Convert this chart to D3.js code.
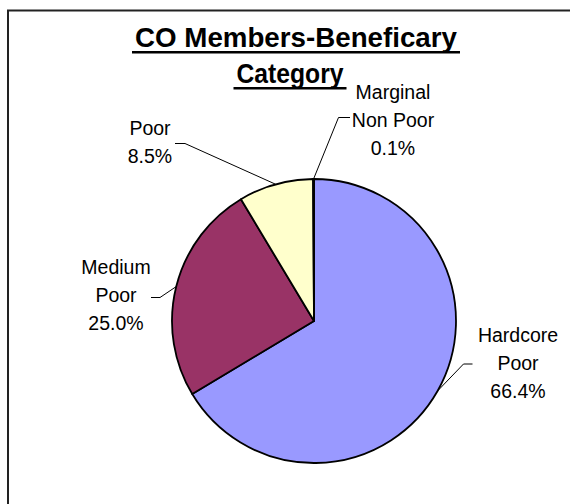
<!DOCTYPE html>
<html>
<head>
<meta charset="utf-8">
<script src="https://cdn.jsdelivr.net/npm/d3@7"></script>
<style>
  html, body { margin: 0; padding: 0; background: #fff; }
  svg { display: block; }
  text { font-family: "Liberation Sans", Arial, sans-serif; fill: #000; }
</style>
</head>
<body>
<svg id="chart" width="570" height="504"></svg>
<script>
// ---- data ----
const categories = ["Hardcore Poor", "Medium Poor", "Poor", "Marginal Non Poor"];
const values = [66.4, 25.0, 8.5, 0.1];
const labelLines = [["Hardcore", "Poor"], ["Medium", "Poor"], ["Poor"], ["Marginal", "Non Poor"]];
const titleLines = ["CO Members-Beneficary", "Category"];
const colors = ["#9999FF", "#993366", "#FFFFCC", "#CCFFFF"];

// ---- layout (label placement, not data) ----
const labelLayout = [
  { cx: 518, y0: 342, elbow: [[472.5, 364], [463.5, 364]] },
  { cx: 116, y0: 274, elbow: [[151, 297.5], [160, 297.5]] },
  { cx: 150, y0: 135, elbow: [[175, 143.5], [185, 143.5]] },
  { cx: 393, y0: 99,  elbow: [[350, 117.5], [338.5, 117.5]] }
];
const titleLayout = [
  { x: 296, y: 47, w: 322 },
  { x: 290, y: 83, w: 107 }
];

const svg = d3.select("#chart");
const cx = 314, cy = 321, R = 142;

// frame (only top and left edges visible)
svg.append("rect")
  .attr("x", 8).attr("y", 10.5)
  .attr("width", 700).attr("height", 700)
  .attr("fill", "none").attr("stroke", "#222").attr("stroke-width", 2);

// title
const titleG = svg.append("g");
titleLines.forEach((t, i) => {
  const T = titleLayout[i];
  titleG.append("text")
    .attr("x", T.x).attr("y", T.y)
    .attr("text-anchor", "middle")
    .attr("font-size", 27).attr("font-weight", "bold")
    .attr("textLength", T.w).attr("lengthAdjust", "spacingAndGlyphs")
    .text(t);
  titleG.append("rect")
    .attr("x", T.x - T.w / 2 - 3).attr("y", T.y + 4)
    .attr("width", T.w + 6).attr("height", 2.5)
    .attr("fill", "#000");
});

// pie
const data = categories.map((c, i) => ({ cat: c, value: values[i], i }));
const pie = d3.pie().value(d => d.value).sort(null);
const arcs = pie(data);
const arc = d3.arc().innerRadius(0).outerRadius(R);
const edge = d3.arc().innerRadius(R).outerRadius(R);

const g = svg.append("g").attr("transform", `translate(${cx},${cy})`);
g.selectAll("path.slice")
  .data(arcs)
  .join("path")
  .attr("class", "slice")
  .attr("d", arc)
  .attr("fill", d => colors[d.data.i])
  .attr("stroke", "#000")
  .attr("stroke-width", 1.8)
  .attr("stroke-linejoin", "round");

// labels + leaders
const fmt = d3.format(".1f");
arcs.forEach((a, k) => {
  const L = labelLayout[k];
  const p = edge.centroid(a);
  const px = cx + p[0], py = cy + p[1];
  const pts = [L.elbow[0], L.elbow[1], [px, py]];
  svg.append("path")
    .attr("d", d3.line()(pts))
    .attr("fill", "none").attr("stroke", "#000").attr("stroke-width", 1);
  const lines = labelLines[k].concat([fmt(a.data.value) + "%"]);
  const t = svg.append("text")
    .attr("text-anchor", "middle")
    .attr("font-size", 19.5);
  lines.forEach((ln, j) => {
    t.append("tspan").attr("x", L.cx).attr("y", L.y0 + j * 27.8).text(ln);
  });
});
</script>
</body>
</html>
